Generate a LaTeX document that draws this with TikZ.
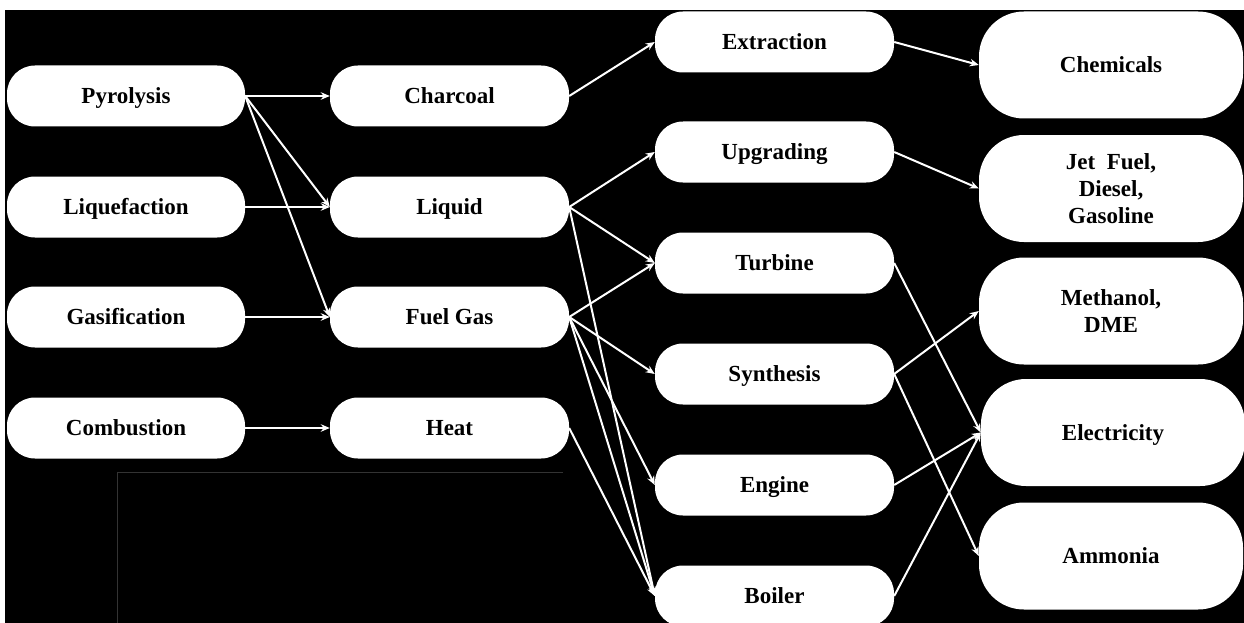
\documentclass[tikz,border=0pt]{standalone}
\usepackage{fontspec}
\setmainfont{Liberation Serif}
\usetikzlibrary{arrows.meta}
\begin{document}
\begin{tikzpicture}[x=1pt,y=-1pt,
  box/.style={fill=white,draw=none,rounded corners=28pt,minimum width=239pt,minimum height=61pt,
    inner sep=0pt,font=\fontsize{23}{27}\selectfont\bfseries,text=black,align=center,
    text height=15.2pt,text depth=0pt},
  bigbox/.style={box,rounded corners=45pt,minimum width=264pt,minimum height=107pt},
  multibox/.style={bigbox,text height=,text depth=},
  arr/.style={white,line width=2pt,-{Stealth[length=9pt,width=7.5pt]}},
  frameline/.style={draw=black!80!white,line width=0.8pt}]
\useasboundingbox (0,0) rectangle (1244,623);
\fill[white] (0,0) rectangle (1244,623);
\fill[black] (5,10) rectangle (1244,623);
\draw[frameline] (117,623) -- (117,472) -- (563,472);
% column 1
\node[box,minimum width=238pt] (pyr) at (126,96) {Pyrolysis};
\node[box,minimum width=238pt] (liq) at (126,207) {Liquefaction};
\node[box,minimum width=238pt] (gas) at (126,317) {Gasification};
\node[box,minimum width=238pt] (com) at (126,428) {Combustion};
% column 2
\node[box] (char) at (449.5,96) {Charcoal};
\node[box] (liquid) at (449.5,207) {Liquid};
\node[box] (fuel) at (449.5,317) {Fuel Gas};
\node[box] (heat) at (449.5,428) {Heat};
% column 3
\node[box] (ext) at (774.5,42) {Extraction};
\node[box] (upg) at (774.5,152) {Upgrading};
\node[box] (tur) at (774.5,263) {Turbine};
\node[box] (syn) at (774.5,374) {Synthesis};
\node[box] (eng) at (774.5,485) {Engine};
\node[box] (boi) at (774.5,596) {Boiler};
% column 4
\node[bigbox] (chem) at (1111,65) {Chemicals};
\node[multibox] (jet) at (1111,188.5) {Jet\ \ Fuel,\\Diesel,\\Gasoline};
\node[multibox] (meth) at (1111,311) {Methanol,\\DME};
\node[bigbox] (elec) at (1113,432.5) {Electricity};
\node[bigbox] (amm) at (1111,556) {Ammonia};
% connectors
\draw[arr] (pyr.east) -- (char.west);
\draw[arr] (pyr.east) -- (liquid.west);
\draw[arr] (pyr.east) -- (fuel.west);
\draw[arr] (liq.east) -- (liquid.west);
\draw[arr] (gas.east) -- (fuel.west);
\draw[arr] (com.east) -- (heat.west);
\draw[arr] (char.east) -- (ext.west);
\draw[arr] (ext.east) -- (chem.west);
\draw[arr] (liquid.east) -- (upg.west);
\draw[arr] (liquid.east) -- (tur.west);
\draw[arr] (liquid.east) -- (boi.west);
\draw[arr] (fuel.east) -- (tur.west);
\draw[arr] (fuel.east) -- (syn.west);
\draw[arr] (fuel.east) -- (eng.west);
\draw[arr] (fuel.east) -- (boi.west);
\draw[arr] (heat.east) -- (boi.west);
\draw[arr] (upg.east) -- (jet.west);
\draw[arr] (tur.east) -- (elec.west);
\draw[arr] (syn.east) -- (meth.west);
\draw[arr] (syn.east) -- (amm.west);
\draw[arr] (eng.east) -- (elec.west);
\draw[arr] (boi.east) -- (elec.west);
\end{tikzpicture}
\end{document}
